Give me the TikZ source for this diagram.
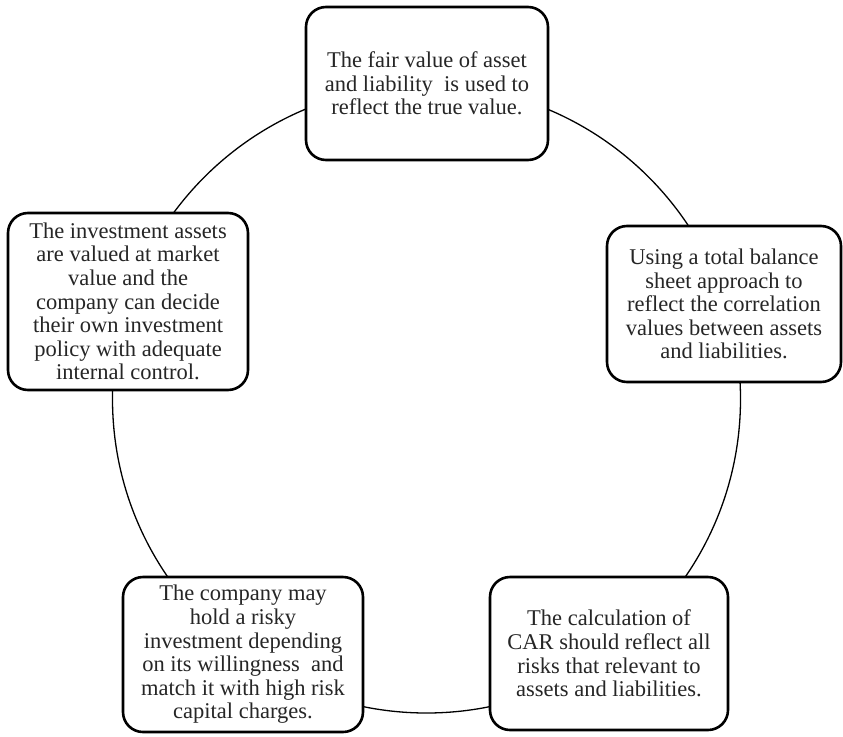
\documentclass[tikz,border=0pt]{standalone}
\usepackage{fontspec}
\setmainfont{Liberation Serif}
\begin{document}
\begin{tikzpicture}[x=1pt,y=-1pt,
  infobox/.style={draw=black, line width=2.6pt, rounded corners=20pt, fill=white,
    inner sep=0pt, align=center, text=black!85,
    font=\fontsize{22.5}{23.6}\selectfont},
  ring/.style={draw=black, line width=1.3pt}]
\useasboundingbox (0,0) rectangle (843,736);
\coordinate (c) at (426.5,399);
\draw[ring] (c) circle[radius=314];
\node[infobox, minimum width=242pt, minimum height=153pt] (top) at (427,83.5)
  {The fair value of asset\\and liability\ \ is used to\\reflect the true value.};
\node[infobox, minimum width=234pt, minimum height=156pt] (right) at (724,304)
  {Using a total balance\\sheet approach to\\reflect the correlation\\values between assets\\and liabilities.};
\node[infobox, minimum width=240pt, minimum height=177pt] (left) at (128,301.5)
  {The investment assets\\are valued at market\\value and the\\company can decide\\their own investment\\policy with adequate\\internal control.};
\node[infobox, minimum width=240pt, minimum height=155pt] (bl) at (243,654.5)
  {The company may\\hold a risky\\investment depending\\on its willingness\ \ and\\match it with high risk\\capital charges.};
\node[infobox, minimum width=238pt, minimum height=153pt] (br) at (609,653.5)
  {The calculation of\\CAR should reflect all\\risks that relevant to\\assets and liabilities.};
\end{tikzpicture}
\end{document}
